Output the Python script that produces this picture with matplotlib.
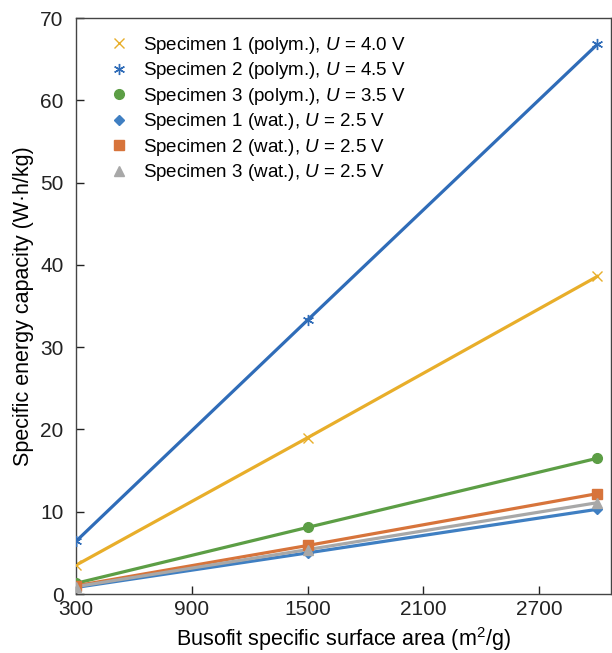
import matplotlib
matplotlib.use("Agg")
from matplotlib import pyplot as plt

plt.rcParams['font.family'] = ['Liberation Sans', 'DejaVu Sans']
plt.rcParams['mathtext.fontset'] = 'custom'
plt.rcParams['mathtext.rm'] = 'Liberation Sans'
plt.rcParams['mathtext.it'] = 'Liberation Sans:italic'

area = [300, 1500, 3000]

s1_polym = [3.5, 19.0, 38.6]
s2_polym = [6.4, 33.3, 66.8]
s3_polym = [1.3, 8.1, 16.5]
s1_wat = [0.8, 5.0, 10.3]
s2_wat = [1.0, 5.9, 12.2]
s3_wat = [0.9, 5.4, 11.1]

labels = [
    "Specimen 1 (polym.), $U$ = 4.0 V",
    "Specimen 2 (polym.), $U$ = 4.5 V",
    "Specimen 3 (polym.), $U$ = 3.5 V",
    "Specimen 1 (wat.), $U$ = 2.5 V",
    "Specimen 2 (wat.), $U$ = 2.5 V",
    "Specimen 3 (wat.), $U$ = 2.5 V",
]

x_ticks = [300, 900, 1500, 2100, 2700]
y_ticks = [0, 10, 20, 30, 40, 50, 60, 70]

fig = plt.figure(figsize=(6.12, 6.53), dpi=100)
ax = fig.add_axes([0.124, 0.0903, 0.874, 0.882])

series = [
    (s1_polym, "#e8ae2a", "x", 7),
    (s2_polym, "#2f6cb8", (6, 2, 0), 8),
    (s3_polym, "#5c9e45", "o", 7),
    (s1_wat, "#3f7fc2", "D", 5),
    (s2_wat, "#d7743b", "s", 7),
    (s3_wat, "#a8a8a8", "^", 7),
]

handles = []
for (vals, col, mk, ms), lab in zip(series, labels):
    ax.plot(area, vals, color=col, linewidth=2.3, zorder=2)
    ax.plot(area, vals, linestyle="none", marker=mk, markersize=ms,
            color=col, markeredgewidth=1.0, zorder=3)
    h, = ax.plot([], [], linestyle="none", marker=mk, markersize=ms,
                 color=col, markeredgewidth=1.0, label=lab)
    handles.append(h)

ax.set_xlim(300, 3070)
ax.set_ylim(0, 70)
ax.set_xticks(x_ticks)
ax.set_yticks(y_ticks)
ax.tick_params(direction="in", length=6, width=1, labelsize=15, colors="#222222",
               top=False, right=False)
ax.tick_params(axis="y", pad=9)
ax.tick_params(axis="x", pad=4)
for sp in ax.spines.values():
    sp.set_color("#444444")
    sp.set_linewidth(1.0)

ax.set_xlabel("Busofit specific surface area (m$^2$/g)", fontsize=15.5, labelpad=5)
ax.set_ylabel("Specific energy capacity (W·h/kg)", fontsize=15.5, labelpad=4)

ax.legend(handles=handles, loc="upper left", frameon=False, fontsize=13.5,
          handletextpad=0.9, labelspacing=0.24, bbox_to_anchor=(0.035, 1.0),
          handlelength=0.8)

fig.savefig("out.png", dpi=100)
